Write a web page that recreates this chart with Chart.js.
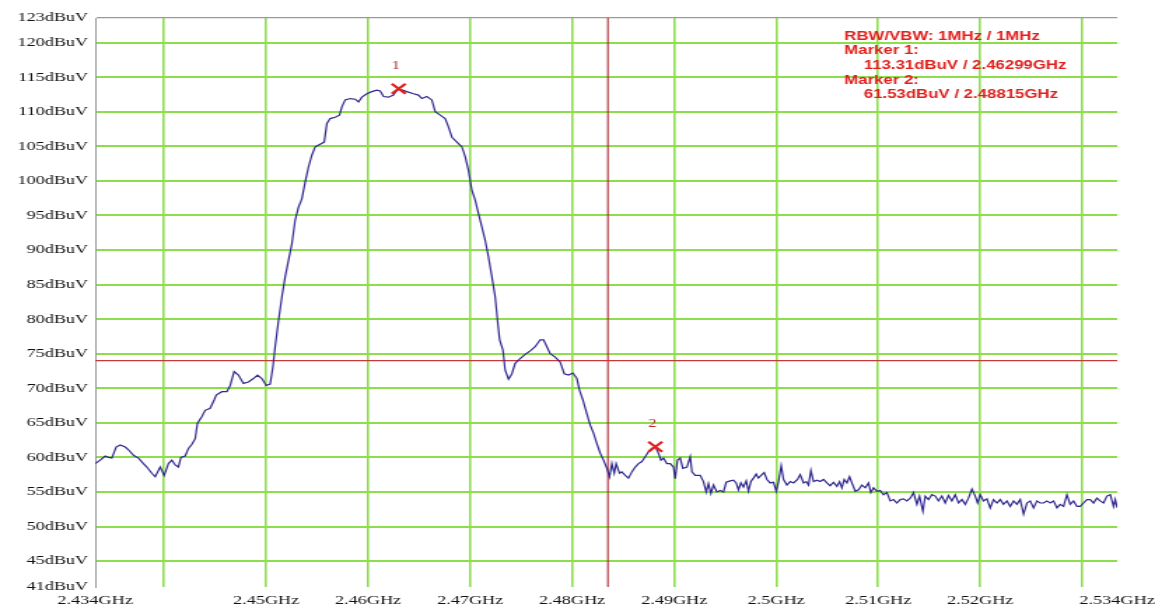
<!DOCTYPE html>
<html>
<head>
<meta charset="utf-8">
<script src="https://cdn.jsdelivr.net/npm/chart.js@4.4.1/dist/chart.umd.min.js"></script>
<style>
  html, body { margin: 0; padding: 0; background: #fff; }
  #spectrum { display: block; }
</style>
</head>
<body>
<!-- the original screenshot is stretched sideways, so the canvas is stretched the same way -->
<canvas id="spectrum" width="825" height="614" style="width:1155px;height:614px"></canvas>
<script>
// sweep
const freqGHz = [
  2.43324, 2.43373, 2.43422, 2.43454, 2.43487, 2.43529, 2.43569, 2.43618, 2.43650, 2.43699,
  2.43748, 2.43797, 2.43830, 2.43879, 2.43912, 2.43961, 2.44000, 2.44042, 2.44075, 2.44108,
  2.44140, 2.44164, 2.44206, 2.44238, 2.44272, 2.44304, 2.44326, 2.44370, 2.44402, 2.44451,
  2.44490, 2.44510, 2.44566, 2.44615, 2.44647, 2.44686, 2.44728, 2.44777, 2.44826, 2.44875,
  2.44915, 2.44958, 2.45000, 2.45039, 2.45066, 2.45088, 2.45121, 2.45154, 2.45186, 2.45219,
  2.45252, 2.45284, 2.45317, 2.45350, 2.45382, 2.45415, 2.45448, 2.45480, 2.45529, 2.45569,
  2.45595, 2.45627, 2.45676, 2.45719, 2.45742, 2.45775, 2.45824, 2.45873, 2.45905, 2.45938,
  2.45987, 2.46036, 2.46085, 2.46118, 2.46150, 2.46199, 2.46248, 2.46270, 2.46299, 2.46379,
  2.46444, 2.46493, 2.46526, 2.46575, 2.46624, 2.46657, 2.46706, 2.46755, 2.46787, 2.46821,
  2.46870, 2.46919, 2.46951, 2.46983, 2.47017, 2.47049, 2.47081, 2.47115, 2.47147, 2.47179,
  2.47213, 2.47245, 2.47268, 2.47289, 2.47321, 2.47343, 2.47376, 2.47409, 2.47441, 2.47490,
  2.47539, 2.47588, 2.47637, 2.47686, 2.47719, 2.47752, 2.47784, 2.47833, 2.47882, 2.47922,
  2.47964, 2.48007, 2.48046, 2.48072, 2.48105, 2.48144, 2.48176, 2.48209, 2.48242, 2.48275,
  2.48307, 2.48340, 2.48366, 2.48389, 2.48412, 2.48431, 2.48464, 2.48487, 2.48520, 2.48552,
  2.48585, 2.48618, 2.48650, 2.48683, 2.48716, 2.48748, 2.48781, 2.48815, 2.48846, 2.48870,
  2.48895, 2.48928, 2.48961, 2.48993, 2.49010, 2.49032, 2.49059, 2.49085, 2.49125, 2.49157,
  2.49174, 2.49206, 2.49255, 2.49287, 2.49314, 2.49336, 2.49360, 2.49385, 2.49419, 2.49451,
  2.49483, 2.49510, 2.49549, 2.49581, 2.49608, 2.49630, 2.49654, 2.49679, 2.49706, 2.49728,
  2.49752, 2.49777, 2.49804, 2.49826, 2.49860, 2.49882, 2.49909, 2.49941, 2.49974, 2.50000,
  2.50023, 2.50049, 2.50072, 2.50105, 2.50137, 2.50170, 2.50209, 2.50235, 2.50268, 2.50294,
  2.50317, 2.50340, 2.50366, 2.50399, 2.50431, 2.50464, 2.50497, 2.50529, 2.50562, 2.50595,
  2.50621, 2.50644, 2.50667, 2.50693, 2.50719, 2.50742, 2.50775, 2.50807, 2.50840, 2.50873,
  2.50905, 2.50928, 2.50954, 2.50987, 2.51020, 2.51052, 2.51085, 2.51118, 2.51150, 2.51183,
  2.51216, 2.51248, 2.51281, 2.51314, 2.51346, 2.51379, 2.51405, 2.51438, 2.51461, 2.51493,
  2.51526, 2.51559, 2.51591, 2.51624, 2.51657, 2.51689, 2.51722, 2.51755, 2.51787, 2.51821,
  2.51853, 2.51885, 2.51919, 2.51951, 2.51974, 2.52000, 2.52032, 2.52066, 2.52098, 2.52130,
  2.52164, 2.52196, 2.52228, 2.52262, 2.52294, 2.52327, 2.52360, 2.52392, 2.52425, 2.52458,
  2.52490, 2.52523, 2.52556, 2.52588, 2.52621, 2.52654, 2.52686, 2.52719, 2.52752, 2.52784,
  2.52817, 2.52850, 2.52882, 2.52915, 2.52948, 2.52980, 2.53013, 2.53046, 2.53078, 2.53111,
  2.53144, 2.53176, 2.53209, 2.53242, 2.53275, 2.53307, 2.53324, 2.53343
];
const levelDbuv = [
  59.1, 59.6, 60.2, 60.0, 59.9, 61.5, 61.8, 61.5, 61.1, 60.3,
  59.9, 59.1, 58.6, 57.7, 57.2, 58.6, 57.4, 59.1, 59.6, 58.9,
  58.6, 60.0, 60.2, 61.3, 61.9, 62.7, 64.9, 65.9, 66.8, 67.1,
  68.3, 69.0, 69.5, 69.5, 70.4, 72.4, 71.9, 70.7, 70.9, 71.4,
  71.9, 71.4, 70.4, 70.6, 73.1, 76.0, 79.8, 83.2, 86.1, 88.5,
  90.9, 94.3, 96.2, 97.4, 99.8, 102.0, 103.7, 104.9, 105.3, 105.6,
  108.3, 109.0, 109.2, 109.5, 110.7, 111.7, 111.9, 111.8, 111.4, 112.1,
  112.6, 112.9, 113.1, 113.0, 112.2, 112.1, 112.4, 112.9, 113.31, 112.9,
  112.6, 112.4, 111.9, 112.2, 111.7, 110.0, 109.5, 109.0, 107.8, 106.3,
  105.6, 104.9, 103.5, 101.5, 98.6, 97.2, 95.3, 93.3, 91.4, 89.0,
  86.1, 83.2, 79.8, 77.0, 75.5, 72.6, 71.3, 72.1, 73.6, 74.3,
  74.9, 75.4, 76.0, 77.0, 77.0, 76.0, 75.0, 74.5, 73.8, 72.1,
  71.9, 72.2, 71.4, 69.7, 68.3, 66.3, 64.7, 63.5, 62.0, 60.6,
  59.6, 58.4, 57.2, 59.1, 57.7, 59.1, 57.7, 57.9, 57.4, 57.0,
  57.9, 58.6, 59.1, 59.4, 60.1, 60.8, 61.3, 61.53, 60.6, 59.6,
  59.9, 59.1, 59.1, 58.6, 56.9, 59.6, 59.9, 58.4, 58.6, 60.1,
  57.9, 57.4, 57.4, 56.5, 55.0, 56.2, 54.8, 56.0, 55.0, 55.2,
  55.0, 56.4, 56.6, 56.7, 56.3, 55.3, 56.3, 55.7, 56.6, 55.1,
  56.5, 57.0, 57.6, 57.0, 57.5, 57.8, 56.8, 56.3, 56.4, 55.1,
  56.5, 58.8, 56.8, 56.0, 56.5, 56.3, 56.8, 57.5, 56.3, 56.5,
  56.0, 58.1, 56.5, 56.7, 56.5, 56.8, 56.3, 55.9, 56.4, 55.8,
  56.5, 55.6, 56.8, 56.3, 57.2, 56.3, 55.1, 55.3, 56.0, 55.6,
  56.3, 54.9, 55.6, 55.1, 55.2, 54.6, 54.9, 53.7, 53.9, 53.4,
  53.9, 54.0, 53.7, 54.1, 54.9, 53.2, 54.4, 52.2, 54.4, 53.9,
  54.6, 54.4, 53.7, 54.4, 53.4, 54.5, 53.7, 54.6, 53.4, 53.9,
  53.2, 54.1, 55.4, 54.4, 53.4, 54.6, 53.7, 54.0, 52.7, 53.9,
  53.4, 53.9, 53.2, 53.7, 52.9, 53.7, 53.2, 53.9, 51.8, 53.4,
  53.7, 52.7, 53.7, 53.4, 53.4, 53.7, 53.4, 53.7, 52.7, 53.2,
  52.9, 54.6, 53.2, 53.7, 52.9, 52.9, 53.4, 53.9, 53.9, 53.4,
  54.1, 53.7, 53.4, 54.4, 54.6, 52.9, 53.9, 52.7
];

const markerFreqGHz = [2.46299, 2.48815];
const markerLevelDbuv = [113.31, 61.53];
const markerNames = ["1", "2"];

const limitDbuv = 74;
const bandEdgeGHz = 2.4835;

const xTickValues = [2.43324, 2.44, 2.45, 2.46, 2.47, 2.48, 2.49, 2.50, 2.51, 2.52, 2.53, 2.53343];
const xTickLabels = ["2.434GHz", "", "2.45GHz", "2.46GHz", "2.47GHz", "2.48GHz", "2.49GHz",
                     "2.5GHz", "2.51GHz", "2.52GHz", "", "2.534GHz"];
const yTickValues = [41.25, 45, 50, 55, 60, 65, 70, 75, 80, 85, 90, 95, 100, 105, 110, 115, 120, 123.55];
const yTickLabels = ["41dBuV", "45dBuV", "50dBuV", "55dBuV", "60dBuV", "65dBuV", "70dBuV", "75dBuV",
                     "80dBuV", "85dBuV", "90dBuV", "95dBuV", "100dBuV", "105dBuV", "110dBuV",
                     "115dBuV", "120dBuV", "123dBuV"];

const infoLines = [
  "RBW/VBW: 1MHz / 1MHz",
  "Marker 1:",
  "113.31dBuV / 2.46299GHz",
  "Marker 2:",
  "61.53dBuV / 2.48815GHz"
];

const X_MIN = xTickValues[0];
const X_MAX = xTickValues[xTickValues.length - 1];
const Y_MIN = yTickValues[0];
const Y_MAX = yTickValues[yTickValues.length - 1];

const GRID = "#8ede4c";
const FRAME = "#9a9a9a";
const SERIF = '"Liberation Serif", "Times New Roman", serif';

// marker numbers and the red readout box
const markerText = {
  id: "markerText",
  afterDatasetsDraw(chart) {
    const { ctx, scales } = chart;
    ctx.save();
    ctx.font = "12px " + SERIF;
    ctx.fillStyle = "#b8302c";
    ctx.textAlign = "center";
    ctx.textBaseline = "middle";
    markerNames.forEach((name, i) => {
      const px = scales.x.getPixelForValue(markerFreqGHz[i]);
      const py = scales.y.getPixelForValue(markerLevelDbuv[i]);
      ctx.fillText(name, px - 2, py - 23);
    });

    ctx.font = 'bold 12px "Liberation Sans", Arial, sans-serif';
    ctx.fillStyle = "#e0201c";
    ctx.textAlign = "left";
    infoLines.forEach((line, i) => {
      const indent = (i === 2 || i === 4) ? 14 : 0;
      ctx.fillText(line, 603 + indent, 36.5 + i * 14.6);
    });
    ctx.restore();
  }
};

const ctx = document.getElementById("spectrum").getContext("2d");

new Chart(ctx, {
  type: "line",
  data: {
    datasets: [
      {
        label: "Markers",
        data: markerFreqGHz.map((f, i) => ({ x: f, y: markerLevelDbuv[i] })),
        showLine: false,
        pointStyle: "crossRot",
        pointRadius: 7,
        pointBorderWidth: 2.2,
        pointBorderColor: "#e0201c",
        borderColor: "#e0201c"
      },
      {
        label: "Trace",
        data: freqGHz.map((f, i) => ({ x: f, y: levelDbuv[i] })),
        borderColor: "#30288f",
        borderWidth: 1.2,
        pointRadius: 0,
        tension: 0
      },
      {
        label: "Limit",
        data: [{ x: X_MIN, y: limitDbuv }, { x: X_MAX, y: limitDbuv }],
        borderColor: "#c8383a",
        borderWidth: 1.2,
        pointRadius: 0
      },
      {
        label: "Band edge",
        data: [{ x: bandEdgeGHz, y: Y_MIN }, { x: bandEdgeGHz, y: Y_MAX }],
        borderColor: "#a82830",
        borderWidth: 1.1,
        pointRadius: 0
      }
    ]
  },
  options: {
    responsive: false,
    devicePixelRatio: 1,
    animation: false,
    events: [],
    layout: { padding: { left: 12, right: 27, top: 18, bottom: 5 } },
    plugins: {
      legend: { display: false },
      tooltip: { enabled: false }
    },
    scales: {
      x: {
        type: "linear",
        min: X_MIN,
        max: X_MAX,
        bounds: "data",
        afterBuildTicks: (scale) => { scale.ticks = xTickValues.map(v => ({ value: v })); },
        afterFit: (scale) => {
          scale.height = 22;
          scale.paddingLeft = 0;
          scale.paddingRight = 0;
        },
        border: { display: false },
        grid: {
          drawTicks: false,
          lineWidth: 1.6,
          color: (c) => (c.tick && (c.tick.value === X_MIN || c.tick.value === X_MAX)) ? "rgba(0,0,0,0)" : GRID
        },
        ticks: {
          autoSkip: false,
          maxRotation: 0,
          padding: 6,
          color: "#111",
          font: { family: SERIF, size: 13 },
          callback: (v, i) => xTickLabels[i]
        }
      },
      y: {
        type: "linear",
        min: Y_MIN,
        max: Y_MAX,
        bounds: "data",
        afterBuildTicks: (scale) => { scale.ticks = yTickValues.map(v => ({ value: v })); },
        afterFit: (scale) => { scale.width = 56; },
        border: { display: true, color: FRAME, width: 1 },
        grid: {
          drawTicks: false,
          lineWidth: (c) => (c.tick && c.tick.value === Y_MAX) ? 1.2 : 2,
          color: (c) => {
            if (!c.tick) return GRID;
            if (c.tick.value === Y_MAX) return FRAME;
            if (c.tick.value === Y_MIN) return "rgba(0,0,0,0)";
            return GRID;
          }
        },
        ticks: {
          autoSkip: false,
          padding: 5,
          color: "#111",
          font: { family: SERIF, size: 13 },
          callback: (v, i) => yTickLabels[i]
        }
      }
    }
  },
  plugins: [markerText]
});
</script>
</body>
</html>
